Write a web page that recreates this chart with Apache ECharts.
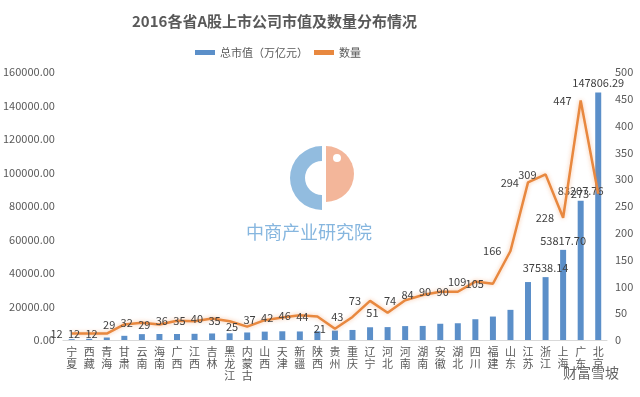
<!DOCTYPE html>
<html>
<head>
<meta charset="utf-8">
<script src="https://cdn.jsdelivr.net/npm/echarts@6/dist/echarts.min.js"></script>
<style>
  html, body { margin: 0; padding: 0; background: #fff; }
  #chart { width: 640px; height: 397px; }
</style>
</head>
<body>
<div id="chart"></div>
<script>
// 省份（按市值从小到大）
const provinces = ['宁夏', '西藏', '青海', '甘肃', '云南', '海南', '广西', '江西', '吉林', '黑龙江',
  '内蒙古', '山西', '天津', '新疆', '陕西', '贵州', '重庆', '辽宁', '河北', '河南',
  '湖南', '安徽', '湖北', '四川', '福建', '山东', '江苏', '浙江', '上海', '广东', '北京'];
// 总市值
const marketValue = [500, 700, 1500, 2500, 3500, 3600, 3600, 3700, 3900, 4000,
  4500, 5000, 5200, 5100, 5200, 5600, 6000, 7600, 7700, 8300,
  8400, 9700, 10000, 12400, 14000, 18000, 34600, 37538.14, 53817.70, 83207.76, 147806.29];
// 上市公司数量
const companyCount = [12, 12, 12, 29, 32, 29, 36, 35, 40, 35,
  25, 37, 42, 46, 44, 21, 43, 73, 51, 74,
  84, 90, 90, 109, 105, 166, 294, 309, 228, 447, 273];
// 只有最后几根柱子显示数值
const barLabelFrom = 27;

const leftTicks = { min: 0, max: 160000, interval: 20000 };
const rightTicks = { min: 0, max: 500, interval: 50 };

let chart = echarts.init(document.getElementById('chart'));

const textFont = 'Noto Sans CJK SC';

let option = {
  animation: false,
  textStyle: { fontFamily: textFont },
  title: {
    text: '2016各省A股上市公司市值及数量分布情况',
    left: 127,
    top: 9,
    textStyle: { fontSize: 15, fontWeight: 'bold', color: '#595959', fontFamily: textFont }
  },
  legend: {
    left: 190,
    top: 42,
    itemWidth: 20,
    itemHeight: 5,
    itemGap: 6,
    textStyle: { fontSize: 11, color: '#595959' },
    data: [
      { name: '总市值（万亿元）', icon: 'rect' },
      { name: '数量', icon: 'rect' }
    ]
  },
  grid: { left: 59, right: 33, top: 72, bottom: 57 },
  xAxis: {
    type: 'category',
    data: provinces,
    axisLine: { lineStyle: { color: '#d9d9d9' } },
    axisTick: { show: false },
    axisLabel: {
      interval: 0,
      fontSize: 11,
      lineHeight: 12,
      color: '#595959',
      margin: 6,
      formatter: v => v.split('').join('\n')
    }
  },
  yAxis: [
    {
      type: 'value',
      min: leftTicks.min,
      max: leftTicks.max,
      interval: leftTicks.interval,
      splitLine: { show: false },
      axisLine: { show: false },
      axisLabel: {
        fontSize: 11,
        color: '#595959',
        margin: 8,
        formatter: v => v.toFixed(2)
      }
    },
    {
      type: 'value',
      min: rightTicks.min,
      max: rightTicks.max,
      interval: rightTicks.interval,
      splitLine: { show: false },
      axisLine: { show: false },
      axisLabel: { fontSize: 11, color: '#595959', margin: 8 }
    }
  ],
  series: [
    {
      name: '总市值（万亿元）',
      type: 'bar',
      barWidth: 6,
      itemStyle: { color: '#5B8FC9' },
      data: marketValue.map((v, i) => ({
        value: v,
        label: {
          show: i >= barLabelFrom,
          position: 'top',
          distance: 4,
          fontSize: 11,
          color: '#404040',
          formatter: p => p.value.toFixed(2)
        }
      }))
    },
    {
      name: '数量',
      type: 'line',
      yAxisIndex: 1,
      data: companyCount,
      showSymbol: true,
      symbol: 'circle',
      symbolSize: 0.1,
      itemStyle: { color: '#E8883F' },
      lineStyle: {
        width: 2.5,
        color: '#E8883F',
        shadowColor: 'rgba(237,125,49,0.45)',
        shadowBlur: 4
      },
      label: {
        show: true,
        position: 'left',
        distance: 9,
        fontSize: 11,
        color: '#404040'
      },
      labelLayout: { hideOverlap: false },
      z: 3
    }
  ],
  graphic: [
    {
      type: 'sector',
      left: 290,
      top: 146,
      shape: { cx: 32, cy: 32, r: 32, r0: 17, startAngle: Math.PI * 0.5, endAngle: Math.PI * 1.5 },
      style: { fill: '#7FB0D9', opacity: 0.85 },
      z: 0
    },
    {
      type: 'sector',
      left: 326,
      top: 146,
      shape: { cx: 0, cy: 32, r: 28, r0: 0, startAngle: -Math.PI * 0.5, endAngle: Math.PI * 0.5 },
      style: { fill: '#F2AE8F', opacity: 0.9 },
      z: 0
    },
    {
      type: 'circle',
      left: 333,
      top: 154,
      shape: { r: 4 },
      style: { fill: '#ffffff' },
      z: 0
    },
    {
      type: 'text',
      left: 246,
      top: 223,
      style: { text: '中商产业研究院', font: '18px "Noto Sans CJK SC"', fill: '#79AEDB', opacity: 0.9 },
      z: 0
    },
    {
      type: 'text',
      left: 563,
      top: 366,
      style: { text: '财富雪坡', font: '14px "Noto Sans CJK SC"', fill: '#666666' },
      z: 10
    }
  ]
};

chart.setOption(option);
window.addEventListener('resize', function () {
  chart.resize();
});
</script>
</body>
</html>
